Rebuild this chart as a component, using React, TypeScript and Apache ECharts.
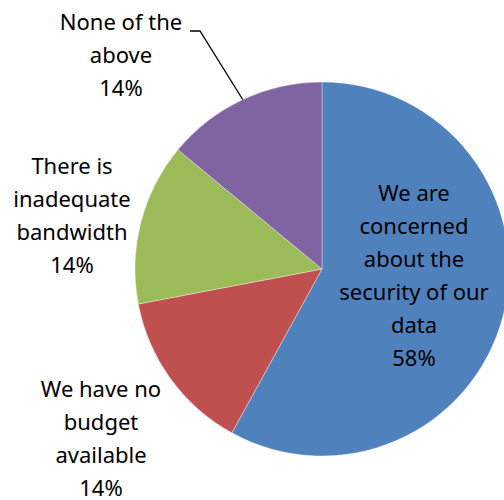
import React, { useEffect, useRef } from "react";
import * as echarts from "echarts";

const categories = [
  "We are concerned about the security of our data",
  "We have no budget available",
  "There is inadequate bandwidth",
  "None of the above",
];
const labelLines = [
  "We are\nconcerned\nabout the\nsecurity of our\ndata",
  "We have no\nbudget\navailable",
  "There is\ninadequate\nbandwidth",
  "None of the\nabove",
];
const values = [58, 14, 14, 14];
const colors = ["#4F81BD", "#C0504D", "#9BBB59", "#8064A2"];

// label centres (layout only)
const labelPos: [number, number][] = [
  [414, 274],
  [101, 437],
  [72, 214],
  [121, 54],
];

export default function App() {
  const ref = useRef<HTMLDivElement>(null);
  useEffect(() => {
    const chart = echarts.init(ref.current!, null, { renderer: "svg" });
    chart.setOption({
      animation: false,
      backgroundColor: "#fff",
      series: [
        {
          type: "pie",
          center: [322, 269],
          radius: 187,
          startAngle: 90,
          clockwise: true,
          silent: true,
          avoidLabelOverlap: false,
          itemStyle: { borderColor: "rgba(255,255,255,0.6)", borderWidth: 0.6 },
          label: {
            show: true,
            position: "outside",
            formatter: (p: any) => labelLines[p.dataIndex] + "\n" + values[p.dataIndex] + "%",
            fontFamily: "Noto Sans",
            fontSize: 22,
            lineHeight: 33,
            color: "#000",
            align: "center",
            overflow: "none",
            width: 300,
          },
          labelLine: { show: false },
          labelLayout: (p: any) => {
            const [x, y] = labelPos[p.dataIndex];
            const res: any = { x, y, align: "center", verticalAlign: "middle", hideOverlap: false, moveOverlap: "none" };
            if (p.dataIndex === 3) {
              res.labelLinePoints = [
                [243, 100],
                [200, 31],
                [190, 31],
              ];
            }
            return res;
          },
          data: values.map((v, i) => ({
            name: categories[i],
            value: v,
            itemStyle: { color: colors[i] },
            labelLine:
              i === 3
                ? { show: true, lineStyle: { color: "#000", width: 1.3 } }
                : { show: false },
          })),
        },
      ],
    });
    return () => chart.dispose();
  }, []);
  return (
    <div
      ref={ref}
      style={{ position: "fixed", left: 0, top: 0, width: 504, height: 500 }}
    />
  );
}
